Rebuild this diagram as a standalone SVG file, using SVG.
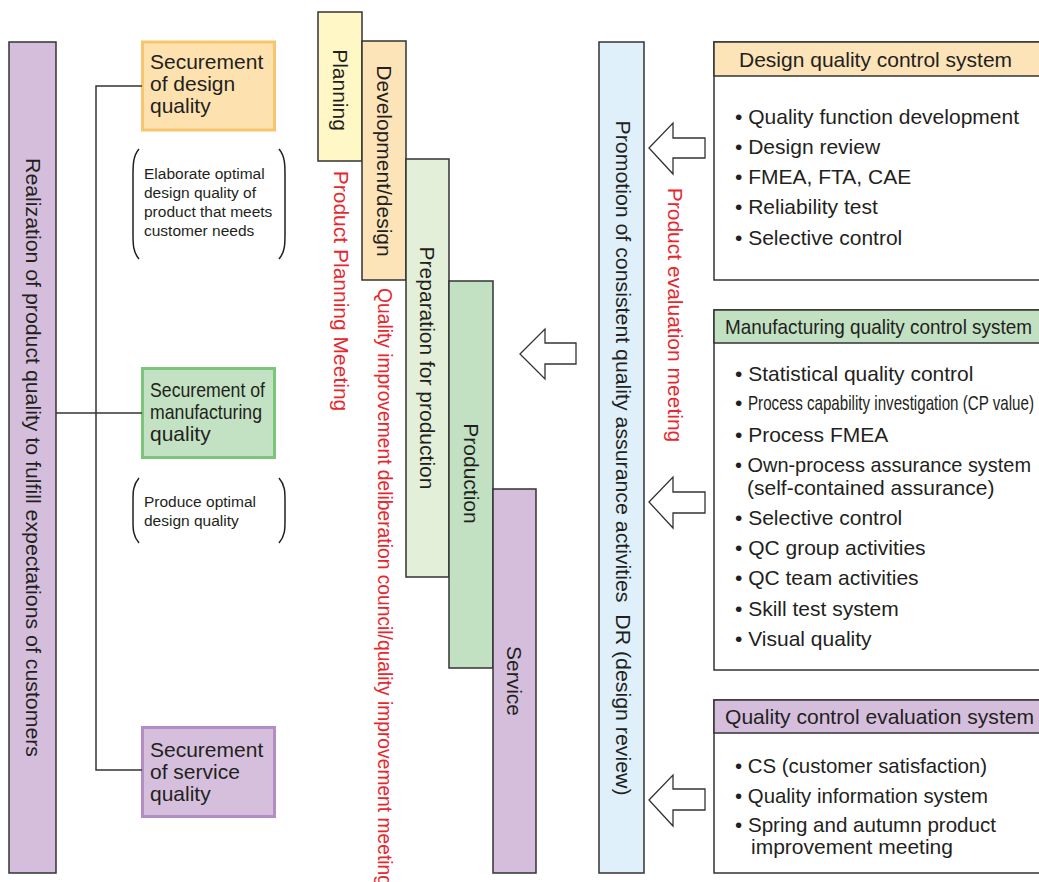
<svg xmlns="http://www.w3.org/2000/svg" width="1039" height="882" viewBox="0 0 1039 882">
  <style>
    text { font-family: "Liberation Sans", Arial, Helvetica, sans-serif; fill: #231f20; font-size: 21px; }
    .red { fill: #e8262d; }
    .small { font-size: 15.5px; }
    .vert { dominant-baseline: central; text-anchor: middle; }
    .frame { stroke: #333333; stroke-width: 1.5; }
    .wire { fill: none; stroke: #333333; stroke-width: 1.5; }
    .paren { fill: none; stroke: #231f20; stroke-width: 1.5; }
    .arrow { fill: #ffffff; stroke: #333333; stroke-width: 1.3; stroke-linejoin: miter; }
  </style>

  <!-- overall goal bar -->
  <g id="goal">
    <rect x="9" y="42" width="47" height="831" fill="#d4bedc" class="frame"/>
    <text class="vert" transform="translate(33,457.5) rotate(90)" textLength="599" lengthAdjust="spacingAndGlyphs">Realization of product quality to fulfill expectations of customers</text>
  </g>

  <!-- securement boxes -->
  <g id="design-quality">
    <rect x="142.5" y="42" width="132" height="88" fill="#fde2b0" stroke="#f7c56f" stroke-width="3"/>
    <text x="150" y="69">Securement</text>
    <text x="150" y="91">of design</text>
    <text x="150" y="113">quality</text>
  </g>
  <g id="design-note">
    <path class="paren" d="M139,149 C133,156 133,165 133,175 L133,234 C133,244 133,252 139,259"/>
    <path class="paren" d="M279,149 C285,156 285,165 285,175 L285,234 C285,244 285,252 279,259"/>
    <text class="small" x="144" y="179">Elaborate optimal</text>
    <text class="small" x="144" y="198">design quality of</text>
    <text class="small" x="144" y="217">product that meets</text>
    <text class="small" x="144" y="236">customer needs</text>
  </g>

  <g id="manufacturing-quality">
    <rect x="142.5" y="368.5" width="132" height="89" fill="#c3e2c3" stroke="#7cc67c" stroke-width="3"/>
    <text x="150" y="397" textLength="115" lengthAdjust="spacingAndGlyphs">Securement of</text>
    <text x="150" y="419" textLength="112" lengthAdjust="spacingAndGlyphs">manufacturing</text>
    <text x="150" y="441">quality</text>
  </g>
  <g id="manufacturing-note">
    <path class="paren" d="M139,478 C133,485 133,492 133,500 L133,521 C133,529 133,536 139,543"/>
    <path class="paren" d="M279,478 C285,485 285,492 285,500 L285,521 C285,529 285,536 279,543"/>
    <text class="small" x="144" y="507">Produce optimal</text>
    <text class="small" x="144" y="526">design quality</text>
  </g>

  <g id="service-quality">
    <rect x="142.5" y="727.5" width="132" height="89" fill="#d5bfdd" stroke="#b48cc6" stroke-width="3"/>
    <text x="150" y="757">Securement</text>
    <text x="150" y="779">of service</text>
    <text x="150" y="801">quality</text>
  </g>

  <!-- process phases -->
  <g id="phase-planning">
    <rect x="318" y="12" width="44" height="149" fill="#fff8c6" class="frame"/>
    <text class="vert" transform="translate(340,90) rotate(90)">Planning</text>
  </g>
  <g id="phase-development">
    <rect x="362" y="41" width="44" height="239" fill="#fde3b8" class="frame"/>
    <text class="vert" transform="translate(384,161) rotate(90)">Development/design</text>
  </g>
  <g id="phase-preparation">
    <rect x="406" y="159" width="43" height="418" fill="#e3efd8" class="frame"/>
    <text class="vert" transform="translate(427.5,368) rotate(90)">Preparation for production</text>
  </g>
  <g id="phase-production">
    <rect x="449" y="281" width="44" height="387" fill="#c2e0c2" class="frame"/>
    <text class="vert" transform="translate(471,473.5) rotate(90)">Production</text>
  </g>
  <g id="phase-service">
    <rect x="493" y="489" width="43" height="384" fill="#d4bedc" class="frame"/>
    <text class="vert" transform="translate(514.5,681) rotate(90)">Service</text>
  </g>

  <!-- meeting labels -->
  <g id="meetings">
    <text class="vert red" transform="translate(341,291) rotate(90)">Product Planning Meeting</text>
    <text class="red" dominant-baseline="central" transform="translate(385,288) rotate(90)" textLength="598" lengthAdjust="spacingAndGlyphs">Quality improvement deliberation council/quality improvement meeting</text>
    <text class="vert red" transform="translate(675,315) rotate(90)">Product evaluation meeting</text>
  </g>

  <!-- assurance activities bar -->
  <g id="assurance">
    <rect x="599" y="42" width="45" height="831" fill="#dff0fa" class="frame"/>
    <text class="vert" transform="translate(623,458) rotate(90)" textLength="675" lengthAdjust="spacingAndGlyphs">Promotion of consistent quality assurance activities&#160; DR (design review)</text>
  </g>

  <!-- control system panels -->
  <g id="design-control">
    <rect x="714" y="42" width="335" height="238" fill="#ffffff" class="frame"/>
    <rect x="714" y="42" width="335" height="34" fill="#fde3b8" class="frame"/>
    <text x="739" y="66.5">Design quality control system</text>
    <text x="735" y="124">• Quality function development</text>
    <text x="735" y="154">• Design review</text>
    <text x="735" y="184">• FMEA, FTA, CAE</text>
    <text x="735" y="214">• Reliability test</text>
    <text x="735" y="245">• Selective control</text>
  </g>

  <g id="manufacturing-control">
    <rect x="714" y="310" width="335" height="360" fill="#ffffff" class="frame"/>
    <rect x="714" y="310" width="335" height="33" fill="#c2e0c2" class="frame"/>
    <text x="725" y="334" font-size="20" textLength="307" lengthAdjust="spacingAndGlyphs">Manufacturing quality control system</text>
    <text x="735" y="381">• Statistical quality control</text>
    <text x="735" y="410">•</text>
    <text x="748" y="410" font-size="19" textLength="286" lengthAdjust="spacingAndGlyphs">Process capability investigation (CP value)</text>
    <text x="735" y="442">• Process FMEA</text>
    <text x="735" y="472" textLength="296" lengthAdjust="spacingAndGlyphs">• Own-process assurance system</text>
    <text x="747" y="495">(self-contained assurance)</text>
    <text x="735" y="525">• Selective control</text>
    <text x="735" y="555">• QC group activities</text>
    <text x="735" y="585">• QC team activities</text>
    <text x="735" y="616">• Skill test system</text>
    <text x="735" y="646">• Visual quality</text>
  </g>

  <g id="evaluation-control">
    <rect x="714" y="700" width="335" height="173" fill="#ffffff" class="frame"/>
    <rect x="714" y="700" width="335" height="33" fill="#d4bedc" class="frame"/>
    <text x="725" y="724" textLength="309" lengthAdjust="spacingAndGlyphs">Quality control evaluation system</text>
    <text x="735" y="773" textLength="252" lengthAdjust="spacingAndGlyphs">• CS (customer satisfaction)</text>
    <text x="735" y="803" textLength="253" lengthAdjust="spacingAndGlyphs">• Quality information system</text>
    <text x="735" y="832" textLength="261" lengthAdjust="spacingAndGlyphs">• Spring and autumn product</text>
    <text x="751" y="854">improvement meeting</text>
  </g>

  <!-- connectors: tree lines and block arrows -->
  <g id="connectors">
    <path class="wire" d="M56,413 H142"/>
    <path class="wire" d="M142,86 H96 V770 H142"/>
    <polygon class="arrow" points="649,148 673,123 673,138 705,138 705,158 673,158 673,174"/>
    <polygon class="arrow" points="520,354 545,329 545,343 576,343 576,364 545,364 545,379"/>
    <polygon class="arrow" points="649,502 673,477 673,492 705,492 705,513 673,513 673,528"/>
    <polygon class="arrow" points="649,800 673,775 673,789 705,789 705,810 673,810 673,826"/>
  </g>
</svg>
